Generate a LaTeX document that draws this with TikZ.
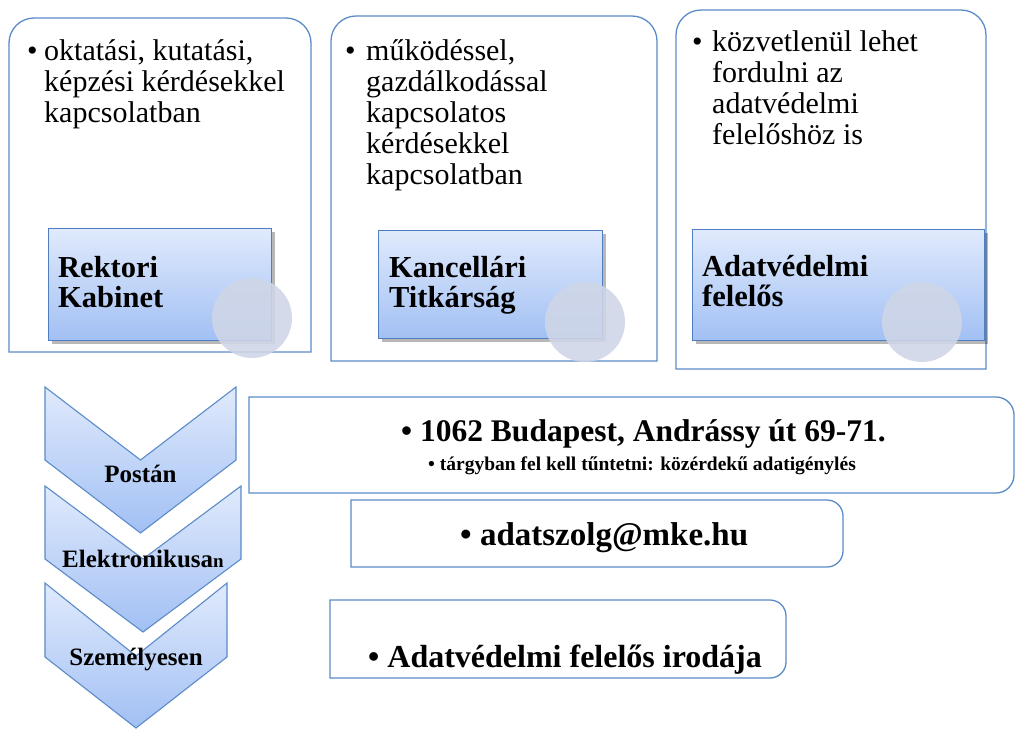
\documentclass[tikz,border=0pt]{standalone}
\usepackage{fontspec}
\setmainfont{Liberation Serif}
\usetikzlibrary{shadows}
\definecolor{bordc}{HTML}{5B8BC8}
\definecolor{innbord}{HTML}{4F7FC0}
\definecolor{gtop}{HTML}{E0EAFC}
\definecolor{gbot}{HTML}{A2C0F4}
\definecolor{circc}{HTML}{CFD6E7}
\tikzset{
  outerbox/.style={draw=bordc, line width=1.3pt},
  innerbox/.style={draw=innbord, line width=1.2pt, top color=gtop, bottom color=gbot,
    rectangle, inner sep=0pt, anchor=north west,
    drop shadow={shadow xshift=3pt, shadow yshift=-3.5pt, opacity=0.28, fill=black}},
  chevron/.style={draw=bordc, line width=1.1pt, top color=gtop, bottom color=gbot},
  deco/.style={circle, fill=circc, fill opacity=0.88, inner sep=0pt, minimum size=80pt},
  toptext/.style={anchor=base west, inner sep=0pt, font=\fontsize{30}{31}\selectfont},
  headtext/.style={anchor=base west, inner sep=0pt, font=\bfseries\fontsize{30.5}{30}\selectfont},
  chevtext/.style={anchor=base, inner sep=0pt, font=\bfseries\fontsize{25}{25}\selectfont},
  lowtext/.style={anchor=base west, inner sep=0pt, font=\bfseries\fontsize{31.5}{31}\selectfont},
}
\begin{document}
\begin{tikzpicture}[x=1pt,y=-1pt]
\useasboundingbox (0,0) rectangle (1017,729);
\fill[white] (0,0) rectangle (1017,729);

% top outer boxes (top corners rounded)
\draw[outerbox] (160,352) -- (9,352) -- (9,200) [rounded corners=25] -- (9,18) -- (311,18) -- (311,200) [sharp corners] -- (311,352) -- cycle;
\draw[outerbox] (490,361) -- (331,361) -- (331,200) [rounded corners=25] -- (331,16) -- (657,16) -- (657,200) [sharp corners] -- (657,361) -- cycle;
\draw[outerbox] (830,369) -- (676,369) -- (676,200) [rounded corners=25] -- (676,10) -- (986,10) -- (986,200) [sharp corners] -- (986,369) -- cycle;

% top texts
\node[toptext] (t1) at (27,60) {\parbox[t]{290pt}{\makebox[17pt][l]{\textbullet}oktatási, kutatási,\\\hspace*{17pt}képzési kérdésekkel\\\hspace*{17pt}kapcsolatban}};
\node[toptext] (t2) at (345,60) {\parbox[t]{300pt}{\makebox[21pt][l]{\textbullet}működéssel,\\\hspace*{21pt}gazdálkodással\\\hspace*{21pt}kapcsolatos\\\hspace*{21pt}kérdésekkel\\\hspace*{21pt}kapcsolatban}};
\node[toptext] (t3) at (692,51) {\parbox[t]{290pt}{\makebox[20pt][l]{\textbullet}közvetlenül lehet\\\hspace*{20pt}fordulni az\\\hspace*{20pt}adatvédelmi\\\hspace*{20pt}felelőshöz is}};

% inner boxes
\node[innerbox, minimum width=223pt, minimum height=112pt] (rk) at (48,228) {};
\node[innerbox, minimum width=224pt, minimum height=108pt] (kt) at (378,230) {};
\node[innerbox, minimum width=292pt, minimum height=111pt] (af) at (692,229) {};
\node[headtext] (rkt) at (58,277) {\parbox[t]{200pt}{Rektori\\Kabinet}};
\node[headtext] (ktt) at (389,277) {\parbox[t]{200pt}{Kancellári\\Titkárság}};
\node[headtext] (aft) at (702,276) {\parbox[t]{260pt}{Adatvédelmi\\felelős}};

% decorative circles
\node[deco] (c1) at (252,318) {};
\node[deco] (c2) at (585,322) {};
\node[deco] (c3) at (922,322) {};

% chevrons
\path[chevron] (45,387) -- (140.5,460) -- (236,387) -- (236,460) -- (140.5,533) -- (45,460) -- cycle;
\path[chevron] (45,486) -- (143,559) -- (241,486) -- (241,559) -- (143,632) -- (45,559) -- cycle;
\path[chevron] (45,583) -- (136,656) -- (227,583) -- (227,657) -- (136,728) -- (45,657) -- cycle;
\node[chevtext] (p) at (140.5,482) {Postán};
\node[chevtext] (e) at (143,567) {Elektronikusa{\fontsize{19}{19}\selectfont n}};
\node[chevtext] (s) at (136,665) {Személyesen};

% lower boxes (right corners rounded)
\draw[outerbox] (249,397) -- (700,397) [rounded corners=18] -- (1014,397) -- (1014,493) -- (700,493) [sharp corners] -- (249,493) -- cycle;
\draw[outerbox] (351,500) -- (600,500) [rounded corners=16] -- (843,500) -- (843,567) -- (600,567) [sharp corners] -- (351,567) -- cycle;
\draw[outerbox] (330,600) -- (560,600) [rounded corners=16] -- (786,600) -- (786,678) -- (560,678) [sharp corners] -- (330,678) -- cycle;

\node[lowtext] (addr) at (401,441) {\textbullet\ 1062 Budapest, Andrássy út 69-71.};
\node[lowtext, font=\bfseries\fontsize{19.5}{19}\selectfont] (subj) at (428,470) {\textbullet\ tárgyban fel kell tűntetni: közérdekű adatigénylés};
\node[lowtext, font=\bfseries\fontsize{33}{33}\selectfont] (mail) at (460,545) {\textbullet\ adatszolg@mke.hu};
\node[lowtext, font=\bfseries\fontsize{32}{32}\selectfont] (off) at (368,667) {\textbullet\ Adatvédelmi felelős irodája};
\end{tikzpicture}
\end{document}
